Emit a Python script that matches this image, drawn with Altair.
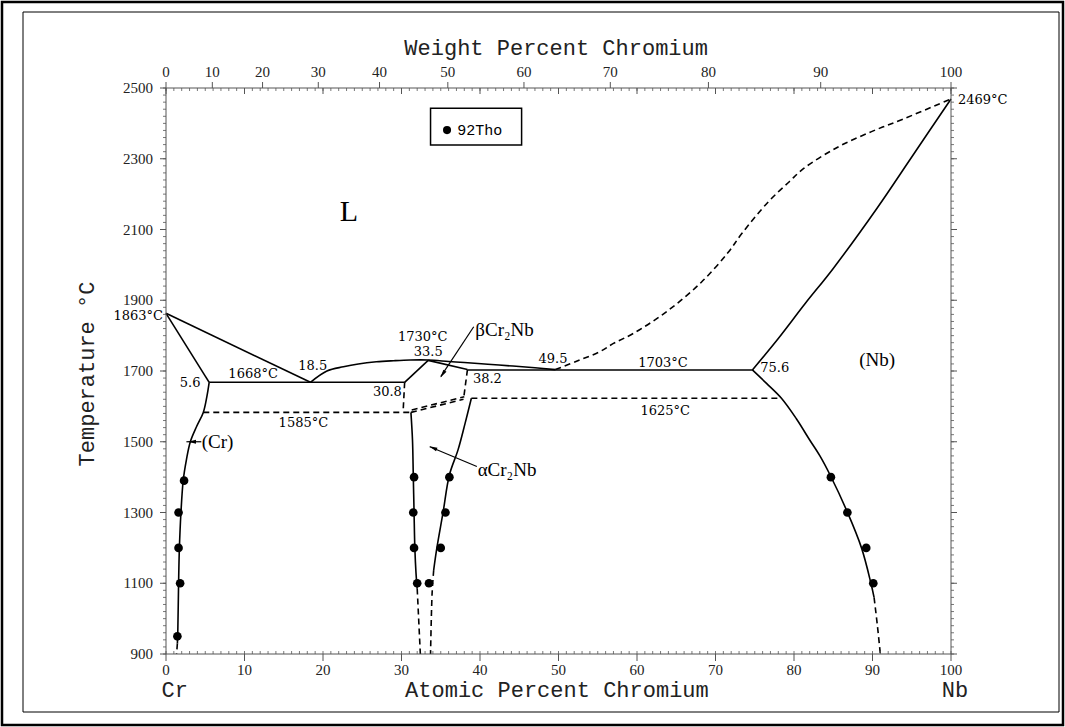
import altair as alt
import pandas as pd

# ---------------- data ----------------
# phase boundaries: (x = atomic percent on the bottom axis, T = temperature in C)
LIQ_CR_X = [0.0, 18.4]
LIQ_CR_T = [1863, 1668]
SOL_CR_X = [0.0, 5.5]
SOL_CR_T = [1863, 1668]
EUT_1668_X = [5.5, 30.4]
EUT_1668_T = [1668, 1668]
LIQ_MID_X = [18.4, 20.5, 22.6, 24.5, 26.8, 29.0, 31.1, 33.4, 36.0, 38.0, 41.0, 44.2, 47.0, 49.6]
LIQ_MID_T = [1668, 1700, 1712, 1720, 1726, 1729, 1731, 1731, 1727, 1724, 1719, 1714, 1709, 1704]
BETA_UPL_X = [30.4, 33.4]
BETA_UPL_T = [1668, 1730]
BETA_UPR_X = [33.4, 38.4]
BETA_UPR_T = [1730, 1704]
EUT_1703_X = [38.4, 74.7]
EUT_1703_T = [1703, 1703]
CR_SOLVUS_X = [5.5, 5.2, 4.75, 3.9, 3.1, 2.6, 2.2, 1.9, 1.7, 1.6, 1.5, 1.45]
CR_SOLVUS_T = [1668, 1627, 1583, 1543, 1500, 1449, 1392, 1298, 1196, 1095, 958, 930]
CR_SOLVUS_D_X = [1.45, 1.35]
CR_SOLVUS_D_T = [930, 900]
ALPHA_L_X = [31.2, 31.4, 31.5, 31.6, 31.7, 31.85, 32.0]
ALPHA_L_T = [1583, 1505, 1406, 1300, 1200, 1128, 1085]
ALPHA_L_D_X = [32.0, 32.4]
ALPHA_L_D_T = [1085, 900]
ALPHA_R_X = [38.9, 38.1, 37.2, 36.1, 35.3, 34.5, 34.1]
ALPHA_R_T = [1623, 1552, 1477, 1406, 1301, 1199, 1137]
ALPHA_R_D_X = [34.1, 33.9, 33.7]
ALPHA_R_D_T = [1137, 1072, 900]
NB_SOLVUS_X = [74.7, 76.5, 78.4, 80.3, 82.0, 83.3, 84.6, 86.8, 88.6, 89.8, 90.2]
NB_SOLVUS_T = [1703, 1665, 1623, 1565, 1505, 1460, 1406, 1301, 1200, 1100, 1060]
NB_SOLVUS_D_X = [90.2, 90.6, 91.0]
NB_SOLVUS_D_T = [1060, 985, 900]
NB_SOLIDUS_X = [74.7, 78.0, 81.4, 85.0, 90.6, 95.0, 100.0]
NB_SOLIDUS_T = [1703, 1792, 1890, 1990, 2161, 2305, 2469]
LIQ_NB_X = [49.6, 52.7, 55.3, 57.0, 59.6, 63.9, 68.2, 71.6, 73.4, 76.8, 79.4, 81.2, 85.5, 89.8, 94.1, 100.0]
LIQ_NB_T = [1704, 1731, 1755, 1778, 1807, 1870, 1951, 2035, 2090, 2180, 2235, 2272, 2332, 2376, 2414, 2469]
BETA_L_D_X = [30.4, 30.2]
BETA_L_D_T = [1668, 1583]
BETA_R_D_X = [38.4, 37.9]
BETA_R_D_T = [1704, 1620]
PER_1585_X = [4.75, 31.2]
PER_1585_T = [1583, 1583]
PER_1625_X = [38.9, 78.4]
PER_1625_T = [1623, 1623]
BETA_BOT_A_X = [31.2, 37.9]
BETA_BOT_A_T = [1583, 1620]
BETA_BOT_B_X = [31.3, 38.0]
BETA_BOT_B_T = [1590, 1627]

# experimental points (92Tho)
PTS_X = [1.45, 1.8, 1.6, 1.6, 2.3, 32.0, 31.6, 31.5, 31.6, 33.5, 35.0, 35.6, 36.1, 84.7, 86.8, 89.2, 90.1]
PTS_T = [950, 1100, 1200, 1300, 1390, 1100, 1200, 1300, 1400, 1100, 1200, 1300, 1400, 1400, 1300, 1200, 1100]

# axes
X_TICKS = list(range(0, 101, 10))
X_MINOR = list(range(0, 101, 1))
T_TICKS = list(range(900, 2501, 200))
T_MINOR = list(range(900, 2501, 20))
WT_LABELS = ["0", "10", "20", "30", "40", "50", "60", "70", "80", "90", "100"]
WT_AT_POS = [0, 5.9, 12.3, 19.4, 27.2, 35.9, 45.6, 56.6, 69.1, 83.4, 100]

# annotations
ANN_CENTER = [
    ("18.5", 18.7, 1714), ("1668°C", 11.1, 1692), ("30.8", 28.2, 1641),
    ("1730°C", 32.7, 1796), ("33.5", 33.4, 1754), ("49.5", 49.3, 1734),
    ("1703°C", 63.3, 1723), ("1625°C", 63.6, 1587), ("1585°C", 17.5, 1553),
]
ANN_RIGHT = [("5.6", 4.4, 1666)]
ANN_LEFT = [("38.2", 39.1, 1677), ("75.6", 75.7, 1708)]
PHASES = [("(Nb)", 90.6, 1731, "center"), ("(Cr)", 4.55, 1500, "left"),
          ("βCr₂Nb", 39.4, 1816, "left"), ("αCr₂Nb", 39.7, 1420, "left")]
ARROW_BETA_X = [39.2, 35.0]
ARROW_BETA_T = [1825, 1684]
ARROW_ALPHA_X = [39.6, 33.6]
ARROW_ALPHA_T = [1430, 1486]
ARROW_CR_X = [2.6, 4.5]
ARROW_CR_T = [1500, 1500]
HEADS = [(35.3, 1693, 213), (34.1, 1482, 293), (3.4, 1500, 270)]

LEGEND_BOX = {"x": 33.7, "x2": 45.3, "T": 2443, "T2": 2339}
LEGEND_DOT = {"x": 35.8, "T": 2381}
LEGEND_TXT = {"x": 37.1, "T": 2381, "label": "92Tho"}

# ---------------- chart ----------------
W, H = 785, 566
SX = alt.Scale(domain=[0, 100], nice=False, zero=False)
SY = alt.Scale(domain=[900, 2500], nice=False, zero=False)
SERIF = "Liberation Serif"
ANNF = "DejaVu Serif"
MONO = "Liberation Mono"
GRAY = "#555"
TXT = "#222"


def X(**kw):
    return alt.X("x:Q", scale=SX, axis=None, **kw)


def Y(**kw):
    return alt.Y("T:Q", scale=SY, axis=None, **kw)


solid = [
    (LIQ_CR_X, LIQ_CR_T), (SOL_CR_X, SOL_CR_T), (EUT_1668_X, EUT_1668_T),
    (LIQ_MID_X, LIQ_MID_T), (BETA_UPL_X, BETA_UPL_T), (BETA_UPR_X, BETA_UPR_T),
    (EUT_1703_X, EUT_1703_T), (CR_SOLVUS_X, CR_SOLVUS_T), (ALPHA_L_X, ALPHA_L_T),
    (ALPHA_R_X, ALPHA_R_T), (NB_SOLVUS_X, NB_SOLVUS_T), (NB_SOLIDUS_X, NB_SOLIDUS_T),
]
dashed = [
    (CR_SOLVUS_D_X, CR_SOLVUS_D_T), (ALPHA_L_D_X, ALPHA_L_D_T), (ALPHA_R_D_X, ALPHA_R_D_T),
    (NB_SOLVUS_D_X, NB_SOLVUS_D_T), (LIQ_NB_X, LIQ_NB_T), (BETA_L_D_X, BETA_L_D_T),
    (BETA_R_D_X, BETA_R_D_T), (PER_1585_X, PER_1585_T), (PER_1625_X, PER_1625_T),
    (BETA_BOT_A_X, BETA_BOT_A_T), (BETA_BOT_B_X, BETA_BOT_B_T),
]


def seg_table(segs):
    rows = []
    for k, (xs, ts) in enumerate(segs):
        for i, (a, b) in enumerate(zip(xs, ts)):
            rows.append({"seg": k, "i": i, "x": a, "T": b})
    return pd.DataFrame(rows)


df_solid = seg_table(solid)
df_dash = seg_table(dashed)
df_arrows = seg_table([(ARROW_BETA_X, ARROW_BETA_T), (ARROW_ALPHA_X, ARROW_ALPHA_T), (ARROW_CR_X, ARROW_CR_T)])

one = pd.DataFrame({"a": [0]})

base = alt.Chart(df_solid).mark_line(color="black", strokeWidth=1.6, interpolate="catmull-rom").encode(
    x=X(), y=Y(), detail="seg:N", order="i:Q")
dash = alt.Chart(df_dash).mark_line(color="black", strokeWidth=1.6, strokeDash=[6, 4],
                                    interpolate="catmull-rom").encode(
    x=X(), y=Y(), detail="seg:N", order="i:Q")
pts = alt.Chart(pd.DataFrame({"x": PTS_X, "T": PTS_T})).mark_circle(color="black", size=75, opacity=1).encode(
    x=X(), y=Y())

# ---- hand-built axes (all positioned through the scales) ----
tm = pd.DataFrame({"T": T_MINOR})
tM = pd.DataFrame({"T": T_TICKS})
xm = pd.DataFrame({"x": X_MINOR})
xM = pd.DataFrame({"x": X_TICKS})
wt = pd.DataFrame({"x": WT_AT_POS, "label": WT_LABELS})

left_line = alt.Chart(one).mark_rule(color=GRAY, strokeWidth=1).encode(
    x=alt.value(0), y=alt.value(0), y2=alt.value(H))
bottom_line = alt.Chart(one).mark_rule(color=GRAY, strokeWidth=1).encode(
    x=alt.value(0), x2=alt.value(W), y=alt.value(H))
top_line = alt.Chart(one).mark_rule(color=GRAY, strokeWidth=1).encode(
    x=alt.value(0), x2=alt.value(W), y=alt.value(0))
right_line = alt.Chart(one).mark_rule(color=GRAY, strokeWidth=1).encode(
    x=alt.value(W), y=alt.value(0), y2=alt.value(H))

left_minor = alt.Chart(tm).mark_rule(color=GRAY, strokeWidth=0.8).encode(
    y=Y(), x=alt.value(0), x2=alt.value(-3))
left_major = alt.Chart(tM).mark_rule(color=GRAY, strokeWidth=1).encode(
    y=Y(), x=alt.value(0), x2=alt.value(-6))
left_labels = alt.Chart(tM).mark_text(font=SERIF, fontSize=15, color=TXT, align="right", baseline="middle").encode(
    y=Y(), x=alt.value(-13), text=alt.Text("T:Q", format="d"))
right_minor = alt.Chart(tm).mark_rule(color=GRAY, strokeWidth=0.8).encode(
    y=Y(), x=alt.value(W), x2=alt.value(W + 3))
right_major = alt.Chart(tM).mark_rule(color=GRAY, strokeWidth=1).encode(
    y=Y(), x=alt.value(W), x2=alt.value(W + 6))
bottom_minor = alt.Chart(xm).mark_rule(color=GRAY, strokeWidth=0.8).encode(
    x=X(), y=alt.value(H), y2=alt.value(H - 3))
bottom_major = alt.Chart(xM).mark_rule(color=GRAY, strokeWidth=1).encode(
    x=X(), y=alt.value(H), y2=alt.value(H + 7))
bottom_labels = alt.Chart(xM).mark_text(font=SERIF, fontSize=15, color=TXT, baseline="middle").encode(
    x=X(), y=alt.value(H + 16), text=alt.Text("x:Q", format="d"))
top_minor = alt.Chart(xm).mark_rule(color=GRAY, strokeWidth=0.8).encode(
    x=X(), y=alt.value(0), y2=alt.value(3))
top_mid = alt.Chart(xM).mark_rule(color=GRAY, strokeWidth=1).encode(
    x=X(), y=alt.value(0), y2=alt.value(6))
top_major = alt.Chart(wt).mark_rule(color=GRAY, strokeWidth=1).encode(
    x=X(), y=alt.value(0), y2=alt.value(-6))
top_labels = alt.Chart(wt).mark_text(font=SERIF, fontSize=15, color=TXT, baseline="middle").encode(
    x=X(), y=alt.value(-16), text="label:N")

# titles
t_top = alt.Chart(pd.DataFrame({"x": [49.7], "label": ["Weight Percent Chromium"]})).mark_text(
    font=MONO, fontSize=22, color=TXT, baseline="middle").encode(x=X(), y=alt.value(-40), text="label:N")
t_bot = alt.Chart(pd.DataFrame({"x": [49.8, 1.1, 100.5], "label": ["Atomic Percent Chromium", "Cr", "Nb"]})).mark_text(
    font=MONO, fontSize=22, color=TXT, baseline="middle").encode(x=X(), y=alt.value(602), text="label:N")
t_left = alt.Chart(one).mark_text(font=MONO, fontSize=22, color=TXT, angle=270, baseline="middle").encode(
    x=alt.value(-79), y=alt.value(286), text=alt.value("Temperature °C"))


def ann(rows, align, font=ANNF, size=13):
    d = pd.DataFrame([{"label": r[0], "x": r[1], "T": r[2]} for r in rows])
    return alt.Chart(d).mark_text(font=font, fontSize=size, align=align, baseline="middle", color="black").encode(
        x=X(), y=Y(), text="label:N")


a_c = ann(ANN_CENTER, "center")
a_r = ann(ANN_RIGHT, "right")
a_l = ann(ANN_LEFT, "left")
melt_l = alt.Chart(pd.DataFrame({"label": ["1863°C"], "x": [0], "T": [1856]})).mark_text(
    font=ANNF, fontSize=13, baseline="middle", align="right", dx=-3, color="black").encode(
    x=X(), y=Y(), text="label:N")
melt_r = alt.Chart(pd.DataFrame({"label": ["2469°C"], "x": [100], "T": [2466]})).mark_text(
    font=ANNF, fontSize=13, baseline="middle", align="left", dx=7, color="black").encode(
    x=X(), y=Y(), text="label:N")

ph_c = ann([p for p in PHASES if p[3] == "center"], "center", font=SERIF, size=19)
ph_l = ann([p for p in PHASES if p[3] == "left"], "left", font=SERIF, size=19)
big_L = ann([("L", 23.3, 2150)], "center", font=SERIF, size=30)

arrows = alt.Chart(df_arrows).mark_line(color="black", strokeWidth=1.2).encode(
    x=X(), y=Y(), detail="seg:N", order="i:Q")
heads = alt.Chart(pd.DataFrame([{"x": h[0], "T": h[1], "ang": h[2]} for h in HEADS])).mark_point(
    shape="M0,-1L-0.4,0.7L0.4,0.7Z", filled=True, color="black", size=90, opacity=1).encode(
    x=X(), y=Y(), angle=alt.Angle("ang:Q", scale=None))

leg_box = alt.Chart(pd.DataFrame([LEGEND_BOX])).mark_rect(fill="white", stroke="black", strokeWidth=1.5).encode(
    x=X(), x2="x2:Q", y=Y(), y2="T2:Q")
leg_dot = alt.Chart(pd.DataFrame([LEGEND_DOT])).mark_circle(color="black", size=65, opacity=1).encode(x=X(), y=Y())
leg_txt = alt.Chart(pd.DataFrame([LEGEND_TXT])).mark_text(font=MONO, fontSize=15, align="left",
                                                        baseline="middle", color="black").encode(
    x=X(), y=Y(), text="label:N")

frame_outer = alt.Chart(one).mark_rect(fill=None, stroke="black", strokeWidth=2.5).encode(
    x=alt.value(-164), x2=alt.value(897), y=alt.value(-86), y2=alt.value(637))
frame_inner = alt.Chart(one).mark_rect(fill=None, stroke="black", strokeWidth=1).encode(
    x=alt.value(-143), x2=alt.value(893), y=alt.value(-76), y2=alt.value(624))

chart = alt.layer(
    frame_outer, frame_inner,
    base, dash,
    left_line, bottom_line, top_line, right_line,
    left_minor, left_major, left_labels, right_minor, right_major,
    bottom_minor, bottom_major, bottom_labels, top_minor, top_mid, top_major, top_labels,
    t_top, t_bot, t_left,
    a_c, a_r, a_l, melt_l, melt_r, ph_c, ph_l, big_L, arrows, heads,
    leg_box, leg_dot, leg_txt, pts,
).properties(
    width=W, height=H,
    autosize=alt.AutoSizeParams(type="none"),
    padding={"left": 166, "top": 88, "right": 114, "bottom": 73},
    background="white",
).configure_view(stroke=None)

chart.save("out.html", embed_options={"renderer": "svg", "actions": False})
